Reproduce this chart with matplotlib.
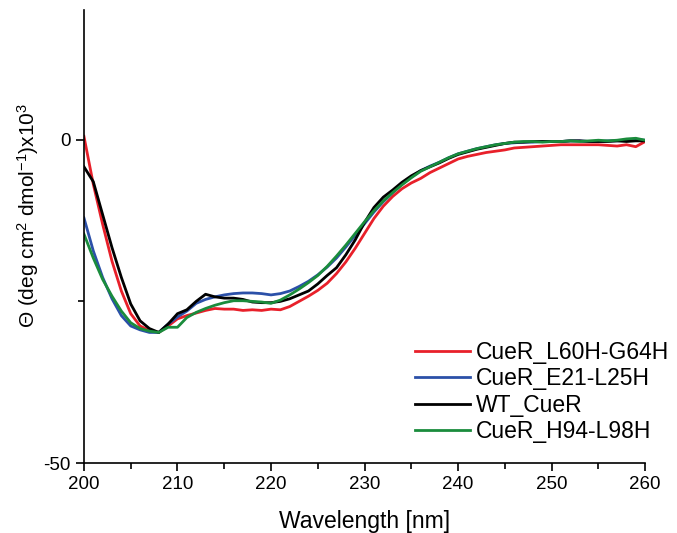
import numpy as np
import matplotlib
matplotlib.use('Agg')
import matplotlib.pyplot as plt
from matplotlib.ticker import MultipleLocator

plt.rcParams['font.family'] = ['Liberation Sans', 'DejaVu Sans']
plt.rcParams['mathtext.fontset'] = 'custom'
plt.rcParams['mathtext.rm'] = 'Liberation Sans'
plt.rcParams['mathtext.it'] = 'Liberation Sans:italic'
plt.rcParams['mathtext.bf'] = 'Liberation Sans:bold'

# wavelength in nm, 1 nm steps
wavelength = np.arange(200, 261)

# ellipticity values (x10^3)
l60h_g64h = [0.5, -6.9, -13.1, -18.8, -23.4, -26.9, -28.8, -29.5, -29.8, -28.8,
             -27.7, -27.2, -26.8, -26.4, -26.1, -26.2, -26.2, -26.4, -26.3, -26.4,
             -26.2, -26.3, -25.8, -25.0, -24.2, -23.3, -22.2, -20.7, -18.9, -16.8,
             -14.5, -12.2, -10.3, -8.8, -7.6, -6.7, -6.0, -5.1, -4.4, -3.7,
             -3.0, -2.6, -2.3, -2.0, -1.8, -1.6, -1.3, -1.2, -1.1, -1.0,
             -0.9, -0.8, -0.8, -0.8, -0.8, -0.8, -0.9, -1.0, -0.8, -1.1, -0.3]
e21_l25h = [-12.1, -17.2, -21.3, -24.6, -27.2, -28.8, -29.4, -29.8, -29.8, -28.5,
            -27.4, -26.5, -25.3, -24.7, -24.3, -24.0, -23.8, -23.7, -23.7, -23.8,
            -24.0, -23.8, -23.4, -22.7, -21.9, -20.9, -19.7, -18.3, -16.6, -14.8,
            -13.0, -11.2, -9.6, -8.2, -6.9, -5.8, -4.8, -4.1, -3.5, -2.8,
            -2.2, -1.8, -1.4, -1.1, -0.8, -0.6, -0.5, -0.4, -0.4, -0.3,
            -0.3, -0.3, -0.2, -0.2, -0.3, -0.3, -0.2, -0.2, -0.1, 0.0, -0.1]
wt_cuer = [-4.2, -6.5, -11.6, -16.7, -21.3, -25.4, -28.0, -29.2, -29.8, -28.5,
           -26.9, -26.3, -25.0, -23.9, -24.3, -24.5, -24.5, -24.7, -25.1, -25.2,
           -25.2, -25.0, -24.6, -24.0, -23.4, -22.3, -21.0, -19.8, -17.8, -15.5,
           -12.8, -10.5, -8.9, -7.8, -6.6, -5.6, -4.8, -4.2, -3.6, -2.9,
           -2.3, -1.9, -1.5, -1.2, -0.9, -0.6, -0.4, -0.4, -0.3, -0.3,
           -0.3, -0.3, -0.2, -0.2, -0.3, -0.3, -0.3, -0.2, -0.3, -0.2, -0.2]
h94_l98h = [-14.6, -18.3, -21.6, -24.2, -26.5, -28.3, -29.2, -29.6, -29.8, -29.0,
            -29.0, -27.5, -26.7, -26.1, -25.6, -25.2, -24.9, -24.9, -25.0, -25.1,
            -25.3, -24.8, -24.0, -23.1, -22.1, -21.0, -19.6, -18.0, -16.3, -14.5,
            -12.7, -11.0, -9.5, -8.2, -7.0, -5.9, -4.9, -4.2, -3.5, -2.8,
            -2.2, -1.8, -1.4, -1.1, -0.8, -0.6, -0.4, -0.3, -0.3, -0.4,
            -0.3, -0.3, -0.2, -0.3, -0.2, -0.1, -0.2, -0.1, 0.1, 0.2, -0.1]

series = [
    ('CueR_L60H-G64H', l60h_g64h, '#e8202a'),
    ('CueR_E21-L25H', e21_l25h, '#2b50a8'),
    ('WT_CueR', wt_cuer, '#000000'),
    ('CueR_H94-L98H', h94_l98h, '#1a8c3c'),
]

fig = plt.figure(figsize=(6.77, 5.33), dpi=100)
ax = fig.add_axes([0.124, 0.131, 0.829, 0.85])

for name, vals, col in series:
    ax.plot(wavelength, vals, color=col, lw=2.0, label=name)

ax.set_xlim(200, 260)
ax.set_ylim(-50, 20)
ax.set_yticks([-50, 0])
ax.set_yticklabels(['-50', '0'])
ax.yaxis.set_minor_locator(MultipleLocator(25))
ax.xaxis.set_major_locator(MultipleLocator(10))
ax.xaxis.set_minor_locator(MultipleLocator(5))
ax.tick_params(which='both', direction='out', width=1.2, labelsize=13.5)
ax.tick_params(which='major', length=6)
ax.tick_params(which='minor', length=4)
ax.spines['top'].set_visible(False)
ax.spines['right'].set_visible(False)
ax.spines['left'].set_linewidth(1.2)
ax.spines['bottom'].set_linewidth(1.2)

ax.set_xlabel('Wavelength [nm]', fontsize=16.5, labelpad=12)
ax.set_ylabel(r'Θ (deg cm$^2$ dmol$^{-1}$)x10$^3$', fontsize=15)
ax.yaxis.set_label_coords(-0.077, 0.547)

ax.legend(loc='upper left', bbox_to_anchor=(415 / 677, 1 - 341 / 533),
          bbox_transform=fig.transFigure, frameon=False, borderpad=0,
          borderaxespad=0, fontsize=16.5, handlelength=2.4,
          handletextpad=0.26, labelspacing=0.15)

fig.savefig('out.png', dpi=100)
